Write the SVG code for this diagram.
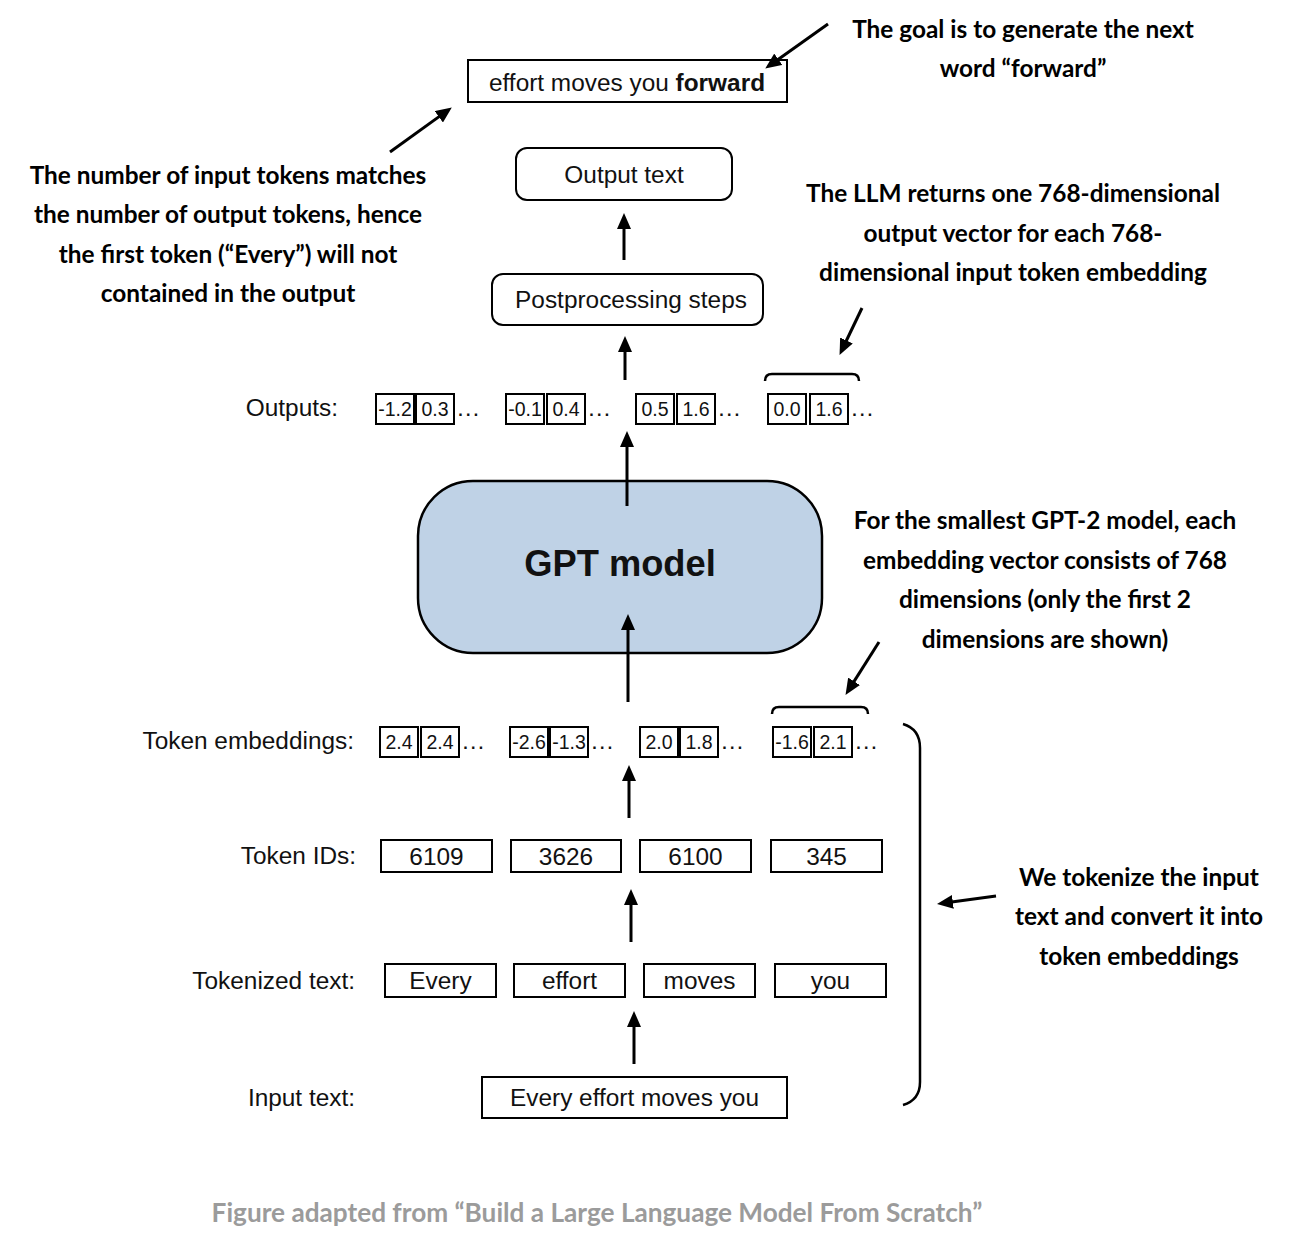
<svg xmlns="http://www.w3.org/2000/svg" width="1306" height="1252" viewBox="0 0 1306 1252">
<style>
.lbl{font-family:"Liberation Sans",Arial,sans-serif;font-size:24.4px;fill:#111}
.num{font-family:"Liberation Sans",Arial,sans-serif;font-size:19.5px;fill:#111;text-anchor:middle}
.box{fill:#fff;stroke:#000;stroke-width:2}
.note{font-family:Lato,"DejaVu Sans",sans-serif;font-weight:bold;font-size:24.4px;fill:#000;text-anchor:middle}
.cap{font-family:Lato,"DejaVu Sans",sans-serif;font-weight:bold;font-size:26.2px;fill:#9b9b9b;text-anchor:middle}
.arr{stroke:#000;stroke-width:3;fill:none;marker-end:url(#ah)}
.brk{stroke:#000;stroke-width:2.5;fill:none}
.mid{text-anchor:middle}
</style>
<defs>
<marker id="ah" markerUnits="userSpaceOnUse" viewBox="0 0 16 14" markerWidth="16" markerHeight="14" refX="5" refY="7" orient="auto">
<path d="M0,0 L16,7 L0,14 z" fill="#000"/>
</marker>
</defs>
<rect width="1306" height="1252" fill="#fff"/>

<g id="output-sentence">
<rect class="box" x="468" y="60" width="319" height="42"/>
<text class="lbl mid" x="627" y="91">effort moves you <tspan font-weight="bold">forward</tspan></text>
</g>

<g id="output-text">
<rect class="box" x="516" y="148" width="216" height="52" rx="11"/>
<text class="lbl mid" x="624" y="183">Output text</text>
</g>

<g id="postprocessing">
<rect class="box" x="492" y="274" width="271" height="51" rx="11"/>
<text class="lbl mid" x="631" y="308">Postprocessing steps</text>
</g>

<g id="outputs">
<text class="lbl" x="338" y="416" text-anchor="end">Outputs:</text>
<rect class="box" x="376" y="394" width="38" height="30"/><text class="num" x="395" y="416">-1.2</text>
<rect class="box" x="416" y="394" width="38" height="30"/><text class="num" x="435" y="416">0.3</text>
<text class="lbl" x="456" y="416">…</text>
<rect class="box" x="506" y="394" width="38" height="30"/><text class="num" x="525" y="416">-0.1</text>
<rect class="box" x="547" y="394" width="38" height="30"/><text class="num" x="566" y="416">0.4</text>
<text class="lbl" x="587" y="416">…</text>
<rect class="box" x="636" y="394" width="38" height="30"/><text class="num" x="655" y="416">0.5</text>
<rect class="box" x="677" y="394" width="38" height="30"/><text class="num" x="696" y="416">1.6</text>
<text class="lbl" x="717" y="416">…</text>
<rect class="box" x="768" y="394" width="38" height="30"/><text class="num" x="787" y="416">0.0</text>
<rect class="box" x="810" y="394" width="38" height="30"/><text class="num" x="829" y="416">1.6</text>
<text class="lbl" x="850" y="416">…</text>
<path class="brk" d="M765,381 Q765,374 772,374 L852,374 Q859,374 859,381"/>
</g>

<g id="gpt-model">
<rect x="418" y="481" width="404" height="172" rx="55" fill="#bfd2e6" stroke="#000" stroke-width="2.5"/>
<text x="620" y="576" text-anchor="middle" font-family="Liberation Sans,Arial,sans-serif" font-weight="bold" font-size="36.3" fill="#111">GPT model</text>
</g>

<g id="token-embeddings">
<text class="lbl" x="354" y="749" text-anchor="end">Token embeddings:</text>
<rect class="box" x="380" y="727" width="38" height="30"/><text class="num" x="399" y="749">2.4</text>
<rect class="box" x="421" y="727" width="38" height="30"/><text class="num" x="440" y="749">2.4</text>
<text class="lbl" x="461" y="749">…</text>
<rect class="box" x="510" y="727" width="38" height="30"/><text class="num" x="529" y="749">-2.6</text>
<rect class="box" x="550" y="727" width="38" height="30"/><text class="num" x="569" y="749">-1.3</text>
<text class="lbl" x="590" y="749">…</text>
<rect class="box" x="640" y="727" width="38" height="30"/><text class="num" x="659" y="749">2.0</text>
<rect class="box" x="680" y="727" width="38" height="30"/><text class="num" x="699" y="749">1.8</text>
<text class="lbl" x="720" y="749">…</text>
<rect class="box" x="773" y="727" width="38" height="30"/><text class="num" x="792" y="749">-1.6</text>
<rect class="box" x="814" y="727" width="38" height="30"/><text class="num" x="833" y="749">2.1</text>
<text class="lbl" x="854" y="749">…</text>
<path class="brk" d="M772,714 Q772,707 779,707 L861,707 Q868,707 868,714"/>
</g>

<g id="token-ids">
<text class="lbl" x="356" y="864" text-anchor="end">Token IDs:</text>
<rect class="box" x="381" y="840" width="111" height="32"/><text class="lbl mid" x="436.5" y="865">6109</text>
<rect class="box" x="511" y="840" width="110" height="32"/><text class="lbl mid" x="566" y="865">3626</text>
<rect class="box" x="640" y="840" width="111" height="32"/><text class="lbl mid" x="695.5" y="865">6100</text>
<rect class="box" x="771" y="840" width="111" height="32"/><text class="lbl mid" x="826.5" y="865">345</text>
</g>

<g id="tokenized-text">
<text class="lbl" x="355" y="989" text-anchor="end">Tokenized text:</text>
<rect class="box" x="385" y="964" width="111" height="33"/><text class="lbl mid" x="440.5" y="989">Every</text>
<rect class="box" x="514" y="964" width="111" height="33"/><text class="lbl mid" x="569.5" y="989">effort</text>
<rect class="box" x="644" y="964" width="111" height="33"/><text class="lbl mid" x="699.5" y="989">moves</text>
<rect class="box" x="775" y="964" width="111" height="33"/><text class="lbl mid" x="830.5" y="989">you</text>
</g>

<g id="input-text">
<text class="lbl" x="355" y="1106" text-anchor="end">Input text:</text>
<rect class="box" x="482" y="1077" width="305" height="41"/>
<text class="lbl mid" x="634.5" y="1106">Every effort moves you</text>
</g>

<g id="brace">
<path class="brk" d="M903,724 Q920,729 920,748 L920,1082 Q920,1100 903,1105"/>
</g>

<g id="note-tokens">
<text class="note" x="228" y="184">The number of input tokens matches</text>
<text class="note" x="228" y="223">the number of output tokens, hence</text>
<text class="note" x="228" y="263">the first token (“Every”) will not</text>
<text class="note" x="228" y="302">contained in the output</text>
</g>

<g id="note-goal">
<text class="note" x="1023" y="38">The goal is to generate the next</text>
<text class="note" x="1023" y="77">word “forward”</text>
</g>

<g id="note-llm">
<text class="note" x="1013" y="202">The LLM returns one 768-dimensional</text>
<text class="note" x="1013" y="242">output vector for each 768-</text>
<text class="note" x="1013" y="281">dimensional input token embedding</text>
</g>

<g id="note-gpt2">
<text class="note" x="1045" y="529">For the smallest GPT-2 model, each</text>
<text class="note" x="1045" y="569">embedding vector consists of 768</text>
<text class="note" x="1045" y="608">dimensions (only the first 2</text>
<text class="note" x="1045" y="648">dimensions are shown)</text>
</g>

<g id="note-tokenize">
<text class="note" x="1139" y="886">We tokenize the input</text>
<text class="note" x="1139" y="925">text and convert it into</text>
<text class="note" x="1139" y="965">token embeddings</text>
</g>

<text class="cap" x="597" y="1222">Figure adapted from “Build a Large Language Model From Scratch”</text>

<g id="connectors">
<line class="arr" x1="624" y1="260" x2="624" y2="224"/>
<line class="arr" x1="625" y1="380" x2="625" y2="347"/>
<line class="arr" x1="627" y1="506" x2="627" y2="442"/>
<line class="arr" x1="628" y1="702" x2="628" y2="625"/>
<line class="arr" x1="629" y1="818" x2="629" y2="776"/>
<line class="arr" x1="631" y1="942" x2="631" y2="900"/>
<line class="arr" x1="634" y1="1064" x2="634" y2="1022"/>
<line class="arr" x1="390" y1="152" x2="442.9" y2="113.9"/>
<line class="arr" x1="828" y1="24" x2="774.2" y2="62.2"/>
<line class="arr" x1="862" y1="308" x2="844.3" y2="345"/>
<line class="arr" x1="879" y1="642" x2="851.4" y2="685.6"/>
<line class="arr" x1="996" y1="896" x2="947.9" y2="902.6"/>
</g>
</svg>
